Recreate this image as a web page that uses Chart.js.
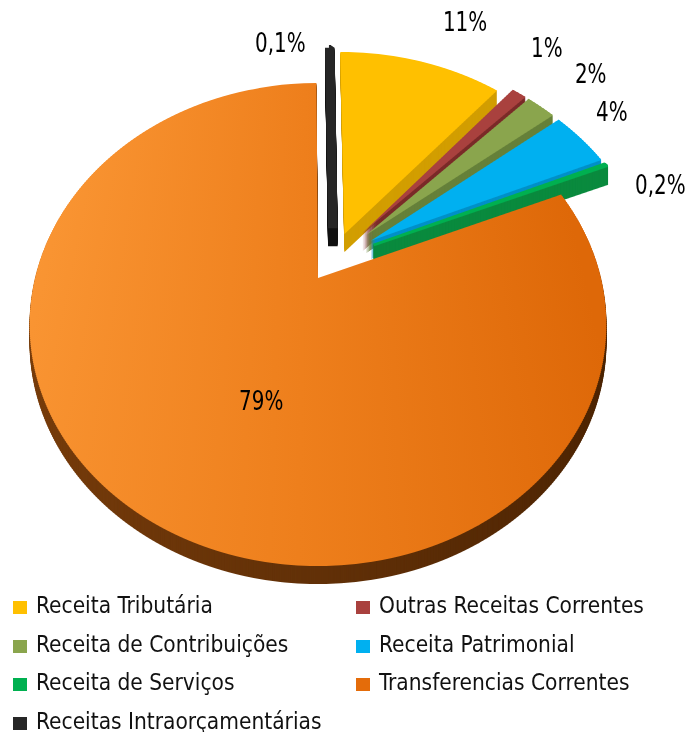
<!DOCTYPE html>
<html>
<head>
<meta charset="utf-8">
<script src="https://cdn.jsdelivr.net/npm/chart.js@4.4.0/dist/chart.umd.min.js"></script>
<style>
  html, body { margin: 0; padding: 0; background: #fff; overflow: hidden; }
  #wrap { position: relative; width: 691px; height: 732px; }
  #pie { position: absolute; left: 0; top: 0; }
  #legenda {
    position: absolute; left: 0; top: 586px; width: 691px;
    display: grid; grid-template-columns: 343px 348px;
    font-family: 'DejaVu Sans Condensed', 'Liberation Sans Narrow', sans-serif;
    font-size: 22.5px; color: #111;
  }
  #legenda .item { height: 38.5px; line-height: 38.5px; padding-left: 13px; white-space: nowrap; }
  #legenda .cor { display: inline-block; width: 14px; height: 13px; margin-right: 9px; vertical-align: -1px; }
</style>
</head>
<body>
<div id="wrap">
  <canvas id="pie" width="691" height="732"></canvas>
  <div id="legenda"></div>
</div>
<script>
// receitas por origem (%)
const categorias = [
  'Receita Tributária',
  'Outras Receitas Correntes',
  'Receita de Contribuições',
  'Receita Patrimonial',
  'Receita de Serviços',
  'Transferencias Correntes',
  'Receitas Intraorçamentárias'
];
const percentuais = [11, 1, 2, 4, 0.2, 79, 0.1];

const cores = ['#FFC000', '#A9413E', '#8AA54D', '#00B0F0', '#00B050', '#E46C0A', '#262626'];
const coresLaterais = ['#D29E00', '#7B2B29', '#66803A', '#0090C8', '#0A8A3E', '#5A2A04', '#111111'];
const explosao = [0.12, 0.16, 0.16, 0.16, 0.16, 0.10, 0.14];   // fração do raio
const bordas = [0, 0, 0, 0, 4, 0, 12];
const rotuloAngulo = [5, -3, 1, -2, 9, -13, -12];                // graus, sentido horário
const rotuloDist = [1.31, 1.31, 1.30, 1.20, 1.14, 0.52, 1.04];   // a partir do vértice da fatia

// perspectiva da pizza 3D
const VERTICE = { x: 318, y: 278 };   // vértice da fatia laranja na tela
const ESC_X = 283;
const ESC_Y = 232.6;
const FUGA = 0.1926;
const ESPESSURA = 18;
const FAIXA = 2;

function fmt(v) {
  return v.toLocaleString('pt-BR') + '%';
}

function projetar(u, v) {
  const w = 1 - FUGA * v;
  return { x: VERTICE.x + ESC_X * u / w, y: VERTICE.y + ESC_Y * v / w };
}

function meio(arc) {
  return (arc.startAngle + arc.endAngle) / 2;
}

// origem do plano (vértice da fatia laranja) em coordenadas do Chart.js
function geometria(arcs) {
  const ref = arcs[5];
  const R = ref.outerRadius;
  const m = meio(ref);
  return {
    R,
    ox: ref.x + Math.cos(m) * explosao[5] * R,
    oy: ref.y + Math.sin(m) * explosao[5] * R
  };
}

// desenha as fatias em faixas horizontais, cada uma com sua escala (perspectiva)
function desenharPizza(c, arcs, pintura) {
  const g = geometria(arcs);
  const H = c.canvas.height, W = c.canvas.width;
  for (let y0 = 0; y0 < H; y0 += FAIXA) {
    const yc = y0 + FAIXA / 2;
    const dy = yc - VERTICE.y;
    const vc = dy / (ESC_Y + FUGA * dy);
    const wc = 1 - FUGA * vc;
    const kx = ESC_X / (wc * g.R);
    const ky = ESC_Y / (wc * wc * g.R);
    c.save();
    c.beginPath();
    c.rect(0, y0, W, FAIXA);
    c.clip();
    c.translate(VERTICE.x, yc - ky * g.R * vc);
    c.scale(kx, ky);
    c.translate(-g.ox, -g.oy);
    arcs.forEach((arc, i) => {
      const m = meio(arc);
      const e = explosao[i] * g.R;
      c.save();
      c.translate(Math.cos(m) * e, Math.sin(m) * e);
      const face = Object.create(arc);
      face.options = Object.assign({}, arc.options, pintura(i));
      face.draw(c);
      c.restore();
    });
    c.restore();
  }
}

function gradiente(c, g, stops) {
  const grad = c.createLinearGradient(g.ox - g.R, 0, g.ox + g.R, 0);
  stops.forEach(([p, cor]) => grad.addColorStop(p, cor));
  return grad;
}

const pizza3d = {
  id: 'pizza3d',
  beforeDatasetsDraw(chart) {
    const arcs = chart.getDatasetMeta(0).data;
    const g = geometria(arcs);

    const lado = document.createElement('canvas');
    lado.width = chart.width; lado.height = chart.height;
    const cl = lado.getContext('2d');
    const gradLado = gradiente(cl, g, [[0, '#7A3E0C'], [1, '#4C2403']]);
    desenharPizza(cl, arcs, (i) => {
      const cor = i === 5 ? gradLado : coresLaterais[i];
      return { backgroundColor: cor, borderColor: cor };
    });

    const topo = document.createElement('canvas');
    topo.width = chart.width; topo.height = chart.height;
    const ct = topo.getContext('2d');
    const gradTopo = gradiente(ct, g, [[0, '#FA9634'], [0.5, '#EE7F1C'], [1, '#DE6808']]);
    desenharPizza(ct, arcs, (i) => {
      const cor = i === 5 ? gradTopo : cores[i];
      return { backgroundColor: cor, borderColor: cor };
    });

    const ctx = chart.ctx;
    for (let d = ESPESSURA; d > 0; d--) ctx.drawImage(lado, 0, d);
    ctx.drawImage(topo, 0, 0);
    return false;
  },
  afterDraw(chart) {
    const ctx = chart.ctx;
    const arcs = chart.getDatasetMeta(0).data;
    const g = geometria(arcs);
    ctx.save();
    ctx.font = "27px 'DejaVu Sans Condensed', 'Liberation Sans Narrow', sans-serif";
    ctx.fillStyle = '#000';
    ctx.textAlign = 'center';
    ctx.textBaseline = 'middle';
    arcs.forEach((arc, i) => {
      const m = meio(arc);
      const u0 = (arc.x + Math.cos(m) * explosao[i] * g.R - g.ox) / g.R;
      const v0 = (arc.y + Math.sin(m) * explosao[i] * g.R - g.oy) / g.R;
      const a = m + rotuloAngulo[i] * Math.PI / 180;
      const p = projetar(u0 + Math.cos(a) * rotuloDist[i], v0 + Math.sin(a) * rotuloDist[i]);
      ctx.save();
      ctx.translate(p.x, p.y);
      ctx.scale(0.82, 1);
      ctx.fillText(fmt(percentuais[i]), 0, 0);
      ctx.restore();
    });
    ctx.restore();
  }
};

const ctx = document.getElementById('pie').getContext('2d');
new Chart(ctx, {
  type: 'pie',
  data: {
    labels: categorias,
    datasets: [{
      data: percentuais,
      backgroundColor: cores,
      borderColor: cores,
      borderWidth: bordas
    }]
  },
  options: {
    responsive: false,
    animation: false,
    events: [],
    plugins: {
      legend: { display: false },
      tooltip: { enabled: false }
    }
  },
  plugins: [pizza3d]
});

// legenda em duas colunas
const leg = document.getElementById('legenda');
categorias.forEach((nome, i) => {
  const item = document.createElement('div');
  item.className = 'item';
  item.innerHTML = `<span class="cor" style="background:${cores[i]}"></span>${nome}`;
  leg.appendChild(item);
});
</script>
</body>
</html>
